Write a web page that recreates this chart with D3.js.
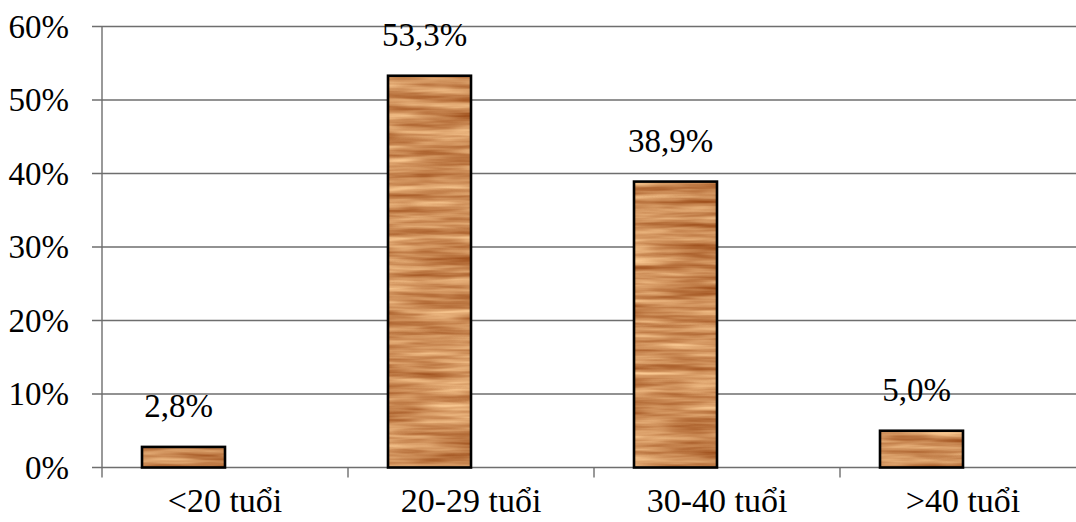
<!DOCTYPE html>
<html>
<head>
<meta charset="utf-8">
<script src="https://cdn.jsdelivr.net/npm/d3@7"></script>
</head>
<body style="margin:0;padding:0;background:#fff">
<svg id="chart" width="1076" height="522" style="display:block"></svg>
<script>
// Age groups and their share of respondents
const categories = ["<20 tuổi", "20-29 tuổi", "30-40 tuổi", ">40 tuổi"];
const values = [0.028, 0.533, 0.389, 0.05];
const valueLabels = ["2,8%", "53,3%", "38,9%", "5,0%"];
const yTicks = [0, 0.1, 0.2, 0.3, 0.4, 0.5, 0.6];
const yTickLabels = ["0%", "10%", "20%", "30%", "40%", "50%", "60%"];

const svg = d3.select("#chart");
const FONT = '"Liberation Serif", "Times New Roman", serif';

const plot = { left: 102, right: 1086, top: 26.5, bottom: 467.5 };

const y = d3.scaleLinear().domain([0, 0.6]).range([plot.bottom, plot.top]);
const x = d3.scaleBand().domain(categories).range([plot.left, plot.right])
  .paddingInner(0).paddingOuter(0);
// each category holds a two-slot cluster; only the first slot carries a bar
const slot = d3.scaleBand().domain(["value", "empty"]).range([0, x.bandwidth()])
  .paddingInner(0).paddingOuter(0.482);
const barX = c => x(c) + slot("value");

const gridColor = "#6e6e6e";

// wood-grain fill: stretched noise mapped onto a tan-brown ramp
const defs = svg.append("defs");
const f = defs.append("filter").attr("id", "wood")
  .attr("filterUnits", "userSpaceOnUse")
  .attr("color-interpolation-filters", "sRGB")
  .attr("x", 0).attr("y", 0).attr("width", 1076).attr("height", 522);
f.append("feTurbulence").attr("type", "fractalNoise")
  .attr("baseFrequency", "0.012 0.14").attr("numOctaves", 3).attr("seed", 11)
  .attr("result", "noise");
f.append("feColorMatrix").attr("in", "noise").attr("type", "matrix")
  .attr("values",
    "0.48 0 0 0 0.56  " +
    "0.64 0 0 0 0.23  " +
    "0.62 0 0 0 0.03  " +
    "0 0 0 0 1")
  .attr("result", "grain");
f.append("feComposite").attr("in", "grain").attr("in2", "SourceAlpha")
  .attr("operator", "in");

// horizontal gridlines with short outside ticks
svg.append("g").selectAll("line").data(yTicks).join("line")
  .attr("x1", plot.left - 10).attr("x2", 1076)
  .attr("y1", d => y(d)).attr("y2", d => y(d))
  .attr("stroke", gridColor).attr("stroke-width", 1.4);

// vertical value axis
svg.append("line")
  .attr("x1", plot.left).attr("x2", plot.left)
  .attr("y1", plot.top).attr("y2", plot.bottom + 10)
  .attr("stroke", gridColor).attr("stroke-width", 1.4);

// category boundary ticks
svg.append("g").selectAll("line").data(categories.slice(1)).join("line")
  .attr("x1", d => x(d)).attr("x2", d => x(d))
  .attr("y1", plot.bottom).attr("y2", plot.bottom + 10)
  .attr("stroke", gridColor).attr("stroke-width", 1.4);

// bars
const bars = svg.append("g");
bars.selectAll("rect.fill").data(categories).join("rect")
  .attr("class", "fill")
  .attr("x", barX).attr("width", slot.bandwidth())
  .attr("y", (c, i) => y(values[i]))
  .attr("height", (c, i) => y(0) - y(values[i]))
  .attr("fill", "#c88c58").attr("filter", "url(#wood)");
bars.selectAll("rect.edge").data(categories).join("rect")
  .attr("class", "edge")
  .attr("x", barX).attr("width", slot.bandwidth())
  .attr("y", (c, i) => y(values[i]))
  .attr("height", (c, i) => y(0) - y(values[i]))
  .attr("fill", "none").attr("stroke", "#000").attr("stroke-width", 2.6);

// serif text helper: the glyphs live in a tspan carrying the font
function serifText(sel, size, txt) {
  sel.attr("font-size", size).attr("fill", "#000")
    .style("font-family", FONT)
    .append("tspan")
    .attr("font-family", "Liberation Serif")
    .style("font-family", FONT, "important")
    .style("font-size", size + "px")
    .text(txt);
}

// y tick labels
svg.append("g").selectAll("text").data(yTicks).join("text")
  .attr("x", 69).attr("y", d => y(d) + 11)
  .attr("text-anchor", "end")
  .each(function (d, i) { serifText(d3.select(this), 33, yTickLabels[i]); });

// value labels above bars
svg.append("g").selectAll("text").data(categories).join("text")
  .attr("x", c => barX(c) + slot.bandwidth() / 2 - 5)
  .attr("y", (c, i) => y(values[i]) - 30)
  .attr("text-anchor", "middle")
  .each(function (c, i) { serifText(d3.select(this), 33, valueLabels[i]); });

// category labels
svg.append("g").selectAll("text").data(categories).join("text")
  .attr("x", c => x(c) + x.bandwidth() / 2)
  .attr("y", 512)
  .attr("text-anchor", "middle")
  .each(function (c) { serifText(d3.select(this), 34, c); });
</script>
</body>
</html>
